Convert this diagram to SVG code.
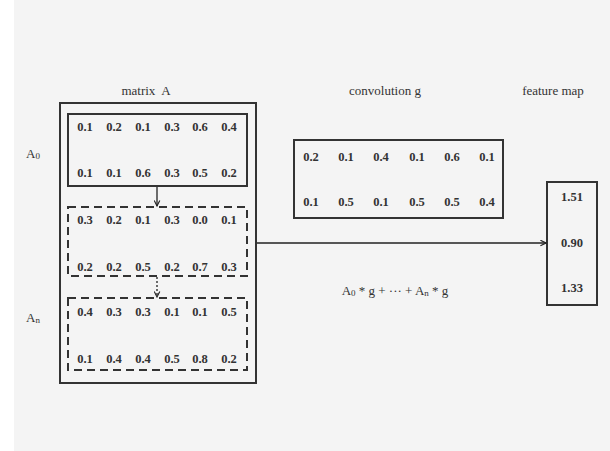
<svg xmlns="http://www.w3.org/2000/svg" width="610" height="451" viewBox="0 0 610 451">
<style>
.t{font-family:"Liberation Serif","Times New Roman",serif;font-size:13px;fill:#333;text-anchor:middle;dominant-baseline:central}
.v{font-family:"Liberation Serif","Times New Roman",serif;font-size:12.5px;font-weight:bold;fill:#333;text-anchor:middle;dominant-baseline:central}
.box{fill:none;stroke:#333;stroke-width:2}
.dash{fill:none;stroke:#333;stroke-width:2;stroke-dasharray:8,5}
.ln{fill:none;stroke:#222;stroke-width:1.3}
</style>
<defs>
<marker id="ah" viewBox="0 0 10 10" refX="9" refY="5" markerWidth="7" markerHeight="7" markerUnits="userSpaceOnUse" orient="auto">
<path d="M1,1 L9,5 L1,9" fill="none" stroke="#222" stroke-width="1.6"/>
</marker>
</defs>
<rect x="0" y="0" width="610" height="451" fill="#ffffff"/>
<rect x="14" y="0" width="596" height="451" fill="#f4f4f4"/>
<g id="titles">
<text class="t" x="146" y="90" xml:space="preserve">matrix  A</text>
<text class="t" x="385" y="90">convolution g</text>
<text class="t" x="553" y="90">feature map</text>
</g>
<g id="matrixA">
<rect class="box" x="60" y="103" width="196" height="280"/>
</g>
<g id="A0">
<text class="t" x="33" y="153">A<tspan font-size="9" dy="3">0</tspan></text>
<rect class="box" x="68" y="114" width="179" height="72"/>
<text class="v" x="85" y="127">0.1</text><text class="v" x="114" y="127">0.2</text><text class="v" x="143" y="127">0.1</text><text class="v" x="172" y="127">0.3</text><text class="v" x="200" y="127">0.6</text><text class="v" x="229" y="127">0.4</text>
<text class="v" x="85" y="173">0.1</text><text class="v" x="114" y="173">0.1</text><text class="v" x="143" y="173">0.6</text><text class="v" x="172" y="173">0.3</text><text class="v" x="200" y="173">0.5</text><text class="v" x="229" y="173">0.2</text>
</g>
<g id="A1">
<rect class="dash" x="68" y="207" width="179" height="69"/>
<text class="v" x="85" y="220">0.3</text><text class="v" x="114" y="220">0.2</text><text class="v" x="143" y="220">0.1</text><text class="v" x="172" y="220">0.3</text><text class="v" x="200" y="220">0.0</text><text class="v" x="229" y="220">0.1</text>
<text class="v" x="85" y="267">0.2</text><text class="v" x="114" y="267">0.2</text><text class="v" x="143" y="267">0.5</text><text class="v" x="172" y="267">0.2</text><text class="v" x="200" y="267">0.7</text><text class="v" x="229" y="267">0.3</text>
</g>
<g id="An">
<text class="t" x="33" y="317">A<tspan font-size="9" dy="3">n</tspan></text>
<rect class="dash" x="68" y="298" width="179" height="72"/>
<text class="v" x="85" y="312">0.4</text><text class="v" x="114" y="312">0.3</text><text class="v" x="143" y="312">0.3</text><text class="v" x="172" y="312">0.1</text><text class="v" x="200" y="312">0.1</text><text class="v" x="229" y="312">0.5</text>
<text class="v" x="85" y="359">0.1</text><text class="v" x="114" y="359">0.4</text><text class="v" x="143" y="359">0.4</text><text class="v" x="172" y="359">0.5</text><text class="v" x="200" y="359">0.8</text><text class="v" x="229" y="359">0.2</text>
</g>
<g id="conv">
<rect class="box" x="294" y="140" width="209" height="78"/>
<text class="v" x="311" y="157">0.2</text><text class="v" x="346" y="157">0.1</text><text class="v" x="381" y="157">0.4</text><text class="v" x="417" y="157">0.1</text><text class="v" x="452" y="157">0.6</text><text class="v" x="487" y="157">0.1</text>
<text class="v" x="311" y="202">0.1</text><text class="v" x="346" y="202">0.5</text><text class="v" x="381" y="202">0.1</text><text class="v" x="417" y="202">0.5</text><text class="v" x="452" y="202">0.5</text><text class="v" x="487" y="202">0.4</text>
</g>
<g id="feature">
<rect class="box" x="547" y="182" width="50" height="123"/>
<text class="v" x="572" y="197">1.51</text>
<text class="v" x="572" y="243">0.90</text>
<text class="v" x="572" y="288">1.33</text>
</g>
<g id="formula">
<text class="t" x="395" y="290">A<tspan font-size="9" dy="3">0</tspan><tspan dy="-3"> * g + ··· + A</tspan><tspan font-size="9" dy="3">n</tspan><tspan dy="-3"> * g</tspan></text>
</g>
<g id="connectors">
<line class="ln" x1="157" y1="187" x2="157" y2="206" marker-end="url(#ah)"/>
<line class="ln" x1="157" y1="277" x2="157" y2="297" stroke-dasharray="2,2" marker-end="url(#ah)"/>
<line class="ln" x1="257" y1="243" x2="546" y2="243" marker-end="url(#ah)"/>
</g>
</svg>
